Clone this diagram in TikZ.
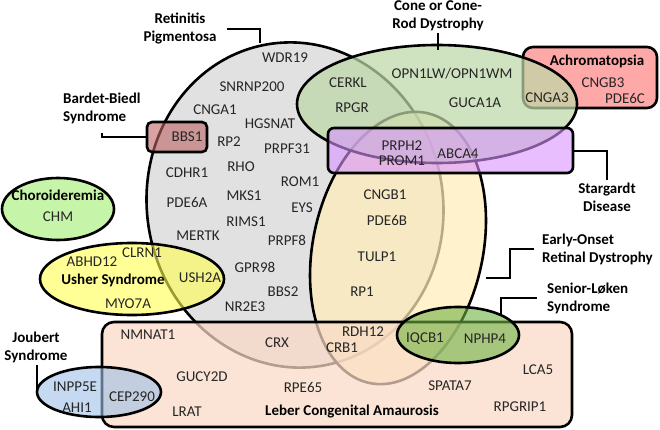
\documentclass[tikz,border=0pt]{standalone}
\usepackage{fontspec}
\setmainfont{Carlito}
\usepackage{xcolor}
\usepackage{tikz}
\definecolor{rpfill}{HTML}{D5D5D5}
\definecolor{eordfill}{HTML}{FFEDB8}
\definecolor{achfill}{HTML}{FF8686}
\definecolor{crdfill}{HTML}{BED8A8}
\definecolor{stgfill}{HTML}{D993FF}
\definecolor{lcafill}{HTML}{F9DAC6}
\definecolor{slsfill}{HTML}{70B243}
\definecolor{ushfill}{HTML}{FFFF50}
\definecolor{joufill}{HTML}{9EC0E6}
\definecolor{bbsfill}{HTML}{BE6464}
\definecolor{chmfill}{HTML}{C6F4A8}
\definecolor{genetext}{HTML}{262626}

\begin{document}
\begin{tikzpicture}[x=1pt, y=-1pt, font=\fontsize{15}{18}\selectfont,
venn/.style={draw=black, line width=2.6pt, fill opacity=0.72},
vennlight/.style={venn, fill opacity=0.6},
gene/.style={text=genetext, inner sep=1pt},
disease/.style={font=\fontsize{15}{18}\selectfont\bfseries, align=center, inner sep=2pt},
leader/.style={line width=2.4pt}]

\useasboundingbox (0,0) rectangle (660,430);

\draw[venn, fill=rpfill, rotate around={10:(295,205)}] (295,205) ellipse [x radius=148pt, y radius=163pt];
\draw[venn, fill=eordfill, rotate around={-12:(398,248)}] (398,248) ellipse [x radius=85pt, y radius=138pt];
\draw[venn, fill=achfill, rounded corners=10pt] (523,47) rectangle (657,108);
\draw[venn, fill=crdfill] (437,104) ellipse [x radius=140pt, y radius=59pt];
\draw[vennlight, fill=stgfill, rounded corners=6pt] (328,128) rectangle (573,173);
\draw[venn, fill=lcafill, rounded corners=12pt] (102,322) rectangle (572,427);
\draw[vennlight, fill=slsfill] (458,335) ellipse [x radius=61pt, y radius=28pt];
\draw[vennlight, fill=ushfill] (132,279) ellipse [x radius=92pt, y radius=36pt];
\draw[vennlight, fill=joufill] (99,392) ellipse [x radius=62pt, y radius=25pt];
\draw[vennlight, fill=bbsfill, rounded corners=5pt] (147,122) rectangle (207,152);
\draw[venn, fill=chmfill, fill opacity=1] (58,209) ellipse [x radius=56pt, y radius=31pt];

\node[gene] (wdr19) at (285,58) {WDR19};
\node[gene] (snrnp200) at (252,87) {SNRNP200};
\node[gene] (cnga1) at (215,110) {CNGA1};
\node[gene] (hgsnat) at (270,124) {HGSNAT};
\node[gene] (bbs1) at (187,137) {BBS1};
\node[gene] (rp2) at (229,142) {RP2};
\node[gene] (prpf31) at (287,149) {PRPF31};
\node[gene] (cdhr1) at (187,173) {CDHR1};
\node[gene] (rho) at (241,167) {RHO};
\node[gene] (rom1) at (300,182) {ROM1};
\node[gene] (pde6a) at (187,202) {PDE6A};
\node[gene] (mks1) at (244,196) {MKS1};
\node[gene] (eys) at (302,208) {EYS};
\node[gene] (rims1) at (246,222) {RIMS1};
\node[gene] (mertk) at (198,236) {MERTK};
\node[gene] (prpf8) at (287,240) {PRPF8};
\node[gene] (gpr98) at (255,267) {GPR98};
\node[gene] (bbs2) at (283,292) {BBS2};
\node[gene] (nr2e3) at (245,307) {NR2E3};

\node[gene] (cerkl) at (348,83) {CERKL};
\node[gene] (rpgr) at (352,108) {RPGR};
\node[gene] (opn1lw) at (452,74) {OPN1LW/OPN1WM};
\node[gene] (guca1a) at (475,103) {GUCA1A};
\node[gene] (cnga3) at (547,98) {CNGA3};

\node[disease] (ach) at (597,61) {Achromatopsia};
\node[gene] (cngb3) at (603,83) {CNGB3};
\node[gene] (pde6c) at (625,98) {PDE6C};

\node[gene] (prph2) at (402,146) {PRPH2};
\node[gene] (prom1) at (402,161) {PROM1};
\node[gene] (abca4) at (458,154) {ABCA4};

\node[gene] (cngb1) at (385,195) {CNGB1};
\node[gene] (pde6b) at (387,220) {PDE6B};
\node[gene] (tulp1) at (377,257) {TULP1};
\node[gene] (rp1) at (362,292) {RP1};

\node[disease] (chm-lab) at (58,195) {Choroideremia};
\node[gene] (chm) at (58,217) {CHM};

\node[gene] (abhd12) at (92,262) {ABHD12};
\node[gene] (clrn1) at (142,253) {CLRN1};
\node[disease] (ush-lab) at (113,280) {Usher Syndrome};
\node[gene] (ush2a) at (200,278) {USH2A};
\node[gene] (myo7a) at (128,304) {MYO7A};

\node[gene] (inpp5e) at (75,387) {INPP5E};
\node[gene] (ahi1) at (77,408) {AHI1};
\node[gene] (cep290) at (132,397) {CEP290};

\node[gene] (nmnat1) at (148,335) {NMNAT1};
\node[gene] (crx) at (277,343) {CRX};
\node[gene] (rdh12) at (363,332) {RDH12};
\node[gene] (crb1) at (342,348) {CRB1};
\node[gene] (gucy2d) at (202,377) {GUCY2D};
\node[gene] (rpe65) at (303,387) {RPE65};
\node[gene] (lrat) at (187,412) {LRAT};
\node[gene] (spata7) at (450,386) {SPATA7};
\node[gene] (lca5) at (538,370) {LCA5};
\node[gene] (rpgrip1) at (520,407) {RPGRIP1};
\node[disease] (lca-lab) at (352,412) {Leber Congenital Amaurosis};

\node[gene] (iqcb1) at (425,339) {IQCB1};
\node[gene] (nphp4) at (485,339) {NPHP4};

\node[disease] (rp) at (180,29) {Retinitis\\Pigmentosa};
\node[disease] (crd) at (438,16) {Cone or Cone-\\Rod Dystrophy};
\node[disease, align=left, anchor=west] (bbs) at (61,108) {Bardet-Biedl\\Syndrome};
\node[disease] (stg) at (607,197) {Stargardt\\Disease};
\node[disease, align=left, anchor=west] (eord) at (540,249) {Early-Onset\\Retinal Dystrophy};
\node[disease, align=left, anchor=west] (sls) at (545,298) {Senior-Løken\\Syndrome};
\node[disease] (jou) at (36,347) {Joubert\\Syndrome};

\coordinate (rp-end) at (260,43);
\coordinate (crd-end) at (438,50);
\coordinate (bbs-end) at (147,137);
\coordinate (stg-end) at (573,151);
\coordinate (eord-knee) at (510,278);
\coordinate (eord-end) at (486,278);
\coordinate (sls-end) at (501,316);
\coordinate (jou-end) at (37,392);

\draw[leader] ([xshift=8pt]rp.east) -| (rp-end);
\draw[leader] (crd.south) -- (crd-end);
\draw[leader] ([yshift=-7pt]bbs.south) |- (bbs-end);
\draw[leader] (stg.north) |- (stg-end);
\draw[leader] ([xshift=-6pt]eord.west) -| (eord-knee) -- (eord-end);
\draw[leader] ([xshift=-8pt]sls.west) -| (sls-end);
\draw[leader] (jou.south -| jou-end) -- (jou-end);
\end{tikzpicture}
\end{document}
